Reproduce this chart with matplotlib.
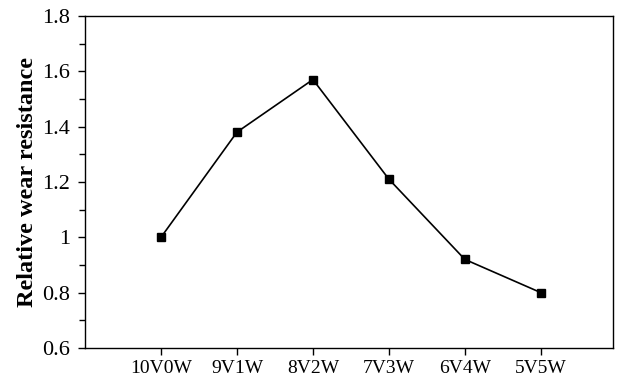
import matplotlib
matplotlib.use("Agg")
import matplotlib.pyplot as plt
from matplotlib.ticker import MultipleLocator

categories = ["10V0W", "9V1W", "8V2W", "7V3W", "6V4W", "5V5W"]
values = [1.00, 1.38, 1.57, 1.21, 0.92, 0.80]
ytick_vals = [0.6, 0.8, 1.0, 1.2, 1.4, 1.6, 1.8]
ytick_labels = ["0.6", "0.8", "1", "1.2", "1.4", "1.6", "1.8"]

plt.rcParams['font.family'] = ['Liberation Serif', 'DejaVu Serif']

fig = plt.figure(figsize=(6.21, 3.79), dpi=100)
ax = fig.add_axes([0.137, 0.082, 0.850, 0.876])
x = list(range(len(categories)))
ax.plot(x, values, color='black', lw=1.2, marker='s', ms=6, mfc='black', mec='black')
ax.set_xlim(-1, 5.95)
ax.set_ylim(0.6, 1.8)
ax.set_xticks(x)
ax.set_xticklabels(categories, fontsize=14)
ax.yaxis.set_minor_locator(MultipleLocator(0.1))
ax.set_yticks(ytick_vals)
ax.set_yticklabels(ytick_labels, fontsize=16)
ax.tick_params(axis='both', which='major', direction='out', length=5, width=1, pad=4)
ax.tick_params(axis='y', which='major', pad=6)
ax.tick_params(axis='y', which='minor', direction='out', length=4, width=1)
ax.set_ylabel("Relative wear resistance", fontsize=17.5, fontweight='bold', labelpad=3)
for s in ax.spines.values():
    s.set_linewidth(1.0)
fig.savefig("out.png", dpi=100)
